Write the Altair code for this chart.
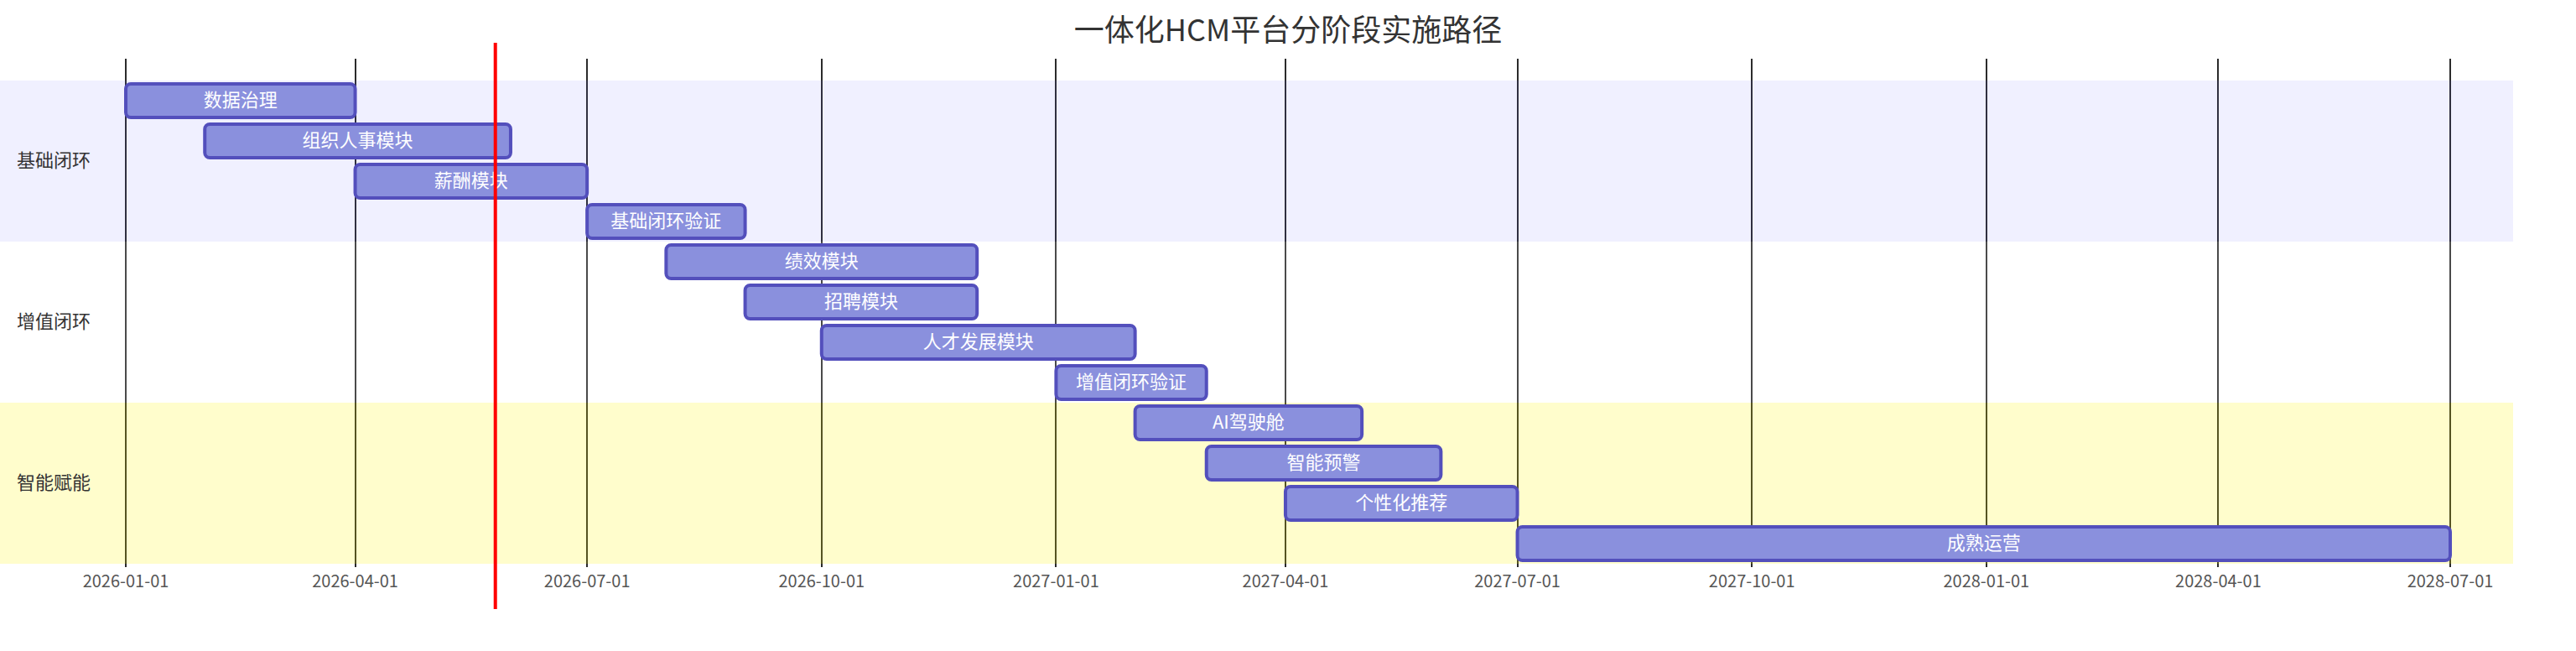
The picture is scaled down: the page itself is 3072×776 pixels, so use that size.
import altair as alt
import pandas as pd

title_text = "一体化HCM平台分阶段实施路径"

sections = ["基础闭环", "增值闭环", "智能赋能"]

tasks = ["数据治理", "组织人事模块", "薪酬模块", "基础闭环验证",
         "绩效模块", "招聘模块", "人才发展模块", "增值闭环验证",
         "AI驾驶舱", "智能预警", "个性化推荐", "成熟运营"]

task_section = ["基础闭环", "基础闭环", "基础闭环", "基础闭环",
                "增值闭环", "增值闭环", "增值闭环", "增值闭环",
                "智能赋能", "智能赋能", "智能赋能", "智能赋能"]

starts = ["2026-01-01", "2026-02-01", "2026-04-01", "2026-07-01",
          "2026-08-01", "2026-09-01", "2026-10-01", "2027-01-01",
          "2027-02-01", "2027-03-01", "2027-04-01", "2027-07-01"]

ends = ["2026-04-01", "2026-06-01", "2026-07-01", "2026-09-01",
        "2026-12-01", "2026-12-01", "2027-02-01", "2027-03-01",
        "2027-05-01", "2027-06-01", "2027-07-01", "2028-07-01"]

tick_labels = ["2026-01-01", "2026-04-01", "2026-07-01", "2026-10-01",
               "2027-01-01", "2027-04-01", "2027-07-01", "2027-10-01",
               "2028-01-01", "2028-04-01", "2028-07-01"]

today = "2026-05-26"

FONT = "Noto Sans CJK SC"


def ms(s):
    return int(pd.Timestamp(s, tz="UTC").value // 10**6)


tasks_df = pd.DataFrame({
    "task": tasks,
    "section": task_section,
    "start": starts,
    "end": ends,
    "row": list(range(len(tasks))),
})

sec_rows = []
r = 0
for s in sections:
    n = task_section.count(s)
    sec_rows.append({"section": s, "r0": r, "r1": r + n, "yc": r + n / 2})
    r += n
sec_df = pd.DataFrame(sec_rows)

today_df = pd.DataFrame({"today": [today]})

W = 2772
H = 602
ROW = 48
n_rows = len(tasks)

xscale = alt.Scale(type="utc", domain=[ms(min(starts)), ms(max(ends))], nice=False)
xaxis = alt.Axis(
    values=[ms(t) for t in tick_labels],
    format="%Y-%m-%d",
    title=None,
    domain=False,
    grid=True,
    gridColor="#2b2b2b",
    gridWidth=2,
    gridOpacity=1,
    ticks=True,
    tickColor="#2b2b2b",
    tickWidth=2,
    tickSize=4,
    translate=0,
    labelFontSize=20,
    labelColor="#555555",
    labelFont=FONT,
    labelPadding=8,
    labelFlush=False,
    labelOverlap=False,
)
yscale = alt.Scale(domain=[-26 / ROW, n_rows], reverse=True, nice=False, zero=False)


def xenc(field):
    return alt.X(field, type="temporal", scale=xscale, axis=xaxis)


bands = alt.Chart(sec_df).mark_rect().encode(
    x=alt.value(-150),
    x2=alt.value(W + 75),
    y=alt.Y("r0:Q", scale=yscale, axis=None),
    y2="r1:Q",
    fill=alt.Color("section:N", scale=alt.Scale(domain=sections,
                                                range=["#6666ff", "#ffffff", "#fff400"]),
                   legend=None),
    fillOpacity=alt.FillOpacity("section:N", scale=alt.Scale(domain=sections,
                                                             range=[0.098, 0.2, 0.2]),
                                legend=None),
)

bars = alt.Chart(tasks_df).transform_calculate(
    y0=f"datum.row + {4 / ROW}",
    y1=f"datum.row + {44 / ROW}",
).mark_rect(cornerRadius=6, fill="#8a90dd", stroke="#534fbc", strokeWidth=4).encode(
    x=xenc("start"),
    x2="end:T",
    y=alt.Y("y0:Q", scale=yscale, axis=None),
    y2="y1:Q",
)

bar_text = alt.Chart(tasks_df).transform_calculate(
    yc="datum.row + 0.5",
    mid="(time(toDate(datum.start)) + time(toDate(datum.end))) / 2",
).mark_text(color="white", fontSize=22, font=FONT, align="center", baseline="middle").encode(
    x=xenc("mid"),
    y=alt.Y("yc:Q", scale=yscale, axis=None),
    text="task:N",
)

sec_text = alt.Chart(sec_df).mark_text(color="#333333", fontSize=22, font=FONT,
                                       align="left", baseline="middle").encode(
    x=alt.value(-130),
    y=alt.Y("yc:Q", scale=yscale, axis=None),
    text="section:N",
)

today_rule = alt.Chart(today_df).mark_rule(color="red", strokeWidth=4).encode(
    x=xenc("today"),
    y=alt.value(-19),
    y2=alt.value(656),
)

chart = alt.layer(bands, bars, bar_text, sec_text, today_rule).properties(
    width=W,
    height=H,
    title=alt.TitleParams(title_text, fontSize=36, font=FONT, color="#333333",
                          fontWeight="normal", anchor="middle", offset=17, dy=25),
    autosize=alt.AutoSizeParams(type="none"),
    padding={"left": 150, "right": 150, "top": 70, "bottom": 104},
    background="white",
).configure_view(stroke=None)

chart.save("out.html", embed_options={"renderer": "svg", "actions": False})
